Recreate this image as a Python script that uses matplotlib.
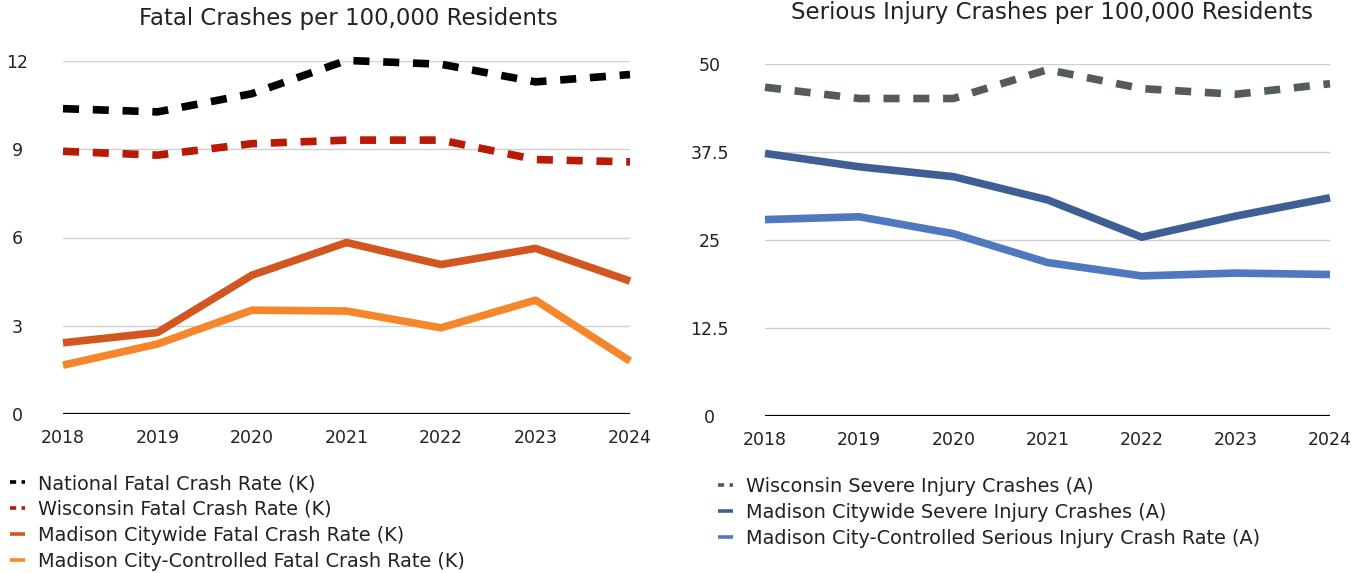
import matplotlib
matplotlib.use("Agg")
import matplotlib.pyplot as plt
from matplotlib.lines import Line2D

plt.rcParams['font.family'] = ['DejaVu Sans']

years = [2018, 2019, 2020, 2021, 2022, 2023, 2024]

# Fatal crashes per 100,000 residents
national_fatal = [10.38, 10.27, 10.89, 12.02, 11.89, 11.29, 11.54]
wisconsin_fatal = [8.93, 8.80, 9.19, 9.31, 9.31, 8.65, 8.57]
madison_citywide_fatal = [2.42, 2.77, 4.72, 5.83, 5.08, 5.63, 4.52]
madison_city_controlled_fatal = [1.66, 2.38, 3.53, 3.50, 2.93, 3.87, 1.80]

# Serious injury crashes per 100,000 residents
wisconsin_serious = [46.7, 45.1, 45.1, 49.2, 46.5, 45.7, 47.2]
madison_citywide_serious = [37.3, 35.4, 34.0, 30.7, 25.4, 28.4, 31.0]
madison_city_controlled_serious = [27.9, 28.3, 25.9, 21.8, 19.9, 20.3, 20.1]

fatal_ticks = [0, 3, 6, 9, 12]
fatal_tick_labels = ["0", "3", "6", "9", "12"]
serious_ticks = [0, 12.5, 25, 37.5, 50]
serious_tick_labels = ["0", "12.5", "25", "37.5", "50"]

fatal_labels = [
    "National Fatal Crash Rate (K)",
    "Wisconsin Fatal Crash Rate (K)",
    "Madison Citywide Fatal Crash Rate (K)",
    "Madison City-Controlled Fatal Crash Rate (K)",
]
serious_labels = [
    "Wisconsin Severe Injury Crashes (A)",
    "Madison Citywide Severe Injury Crashes (A)",
    "Madison City-Controlled Serious Injury Crash Rate (A)",
]

fatal_colors = ["#000000", "#B81A05", "#D2561F", "#F5862B"]
serious_colors = ["#545B5E", "#3F5E95", "#5078BF"]

TEXT = "#222222"
LW = 5.5
DASH = (0, (2.1, 1.8))

W, H = 1365, 573
fig = plt.figure(figsize=(W / 100, H / 100), dpi=100)


def px_axes(x0, x1, ytop, ybot):
    return fig.add_axes([x0 / W, 1 - ybot / H, (x1 - x0) / W, (ybot - ytop) / H])


ax1 = px_axes(63, 630, 61, 414)
ax2 = px_axes(765, 1330, 64, 416)


def style_axis(ax, ticks, tick_labels, top, ypad):
    ax.set_xlim(years[0], years[-1])
    ax.set_ylim(0, top)
    ax.set_yticks(ticks)
    ax.set_yticklabels(tick_labels)
    ax.set_xticks(years)
    ax.set_xticklabels([str(y) for y in years])
    for s in ax.spines.values():
        s.set_visible(False)
    ax.tick_params(length=0, labelsize=12.5, colors=TEXT)
    ax.tick_params(axis='x', pad=11)
    ax.tick_params(axis='y', pad=ypad)
    for lbl in ax.get_yticklabels():
        lbl.set_horizontalalignment('center')
    ax.grid(axis='y', color='#D0D0D0', linewidth=1.0)
    ax.set_axisbelow(True)
    ax.axhline(0, color='#000000', linewidth=1.6, zorder=1.5)


style_axis(ax1, fatal_ticks, fatal_tick_labels, 12, 33)
style_axis(ax2, serious_ticks, serious_tick_labels, 50, 40)

fatal_series = [national_fatal, wisconsin_fatal, madison_citywide_fatal,
                madison_city_controlled_fatal]
fatal_styles = [DASH, DASH, '-', '-']
for vals, col, ls in zip(fatal_series, fatal_colors, fatal_styles):
    ax1.plot(years, vals, color=col, linewidth=LW, linestyle=ls,
             solid_capstyle='butt', dash_capstyle='butt', clip_on=False, zorder=3)

serious_series = [wisconsin_serious, madison_citywide_serious,
                  madison_city_controlled_serious]
serious_styles = [DASH, '-', '-']
for vals, col, ls in zip(serious_series, serious_colors, serious_styles):
    ax2.plot(years, vals, color=col, linewidth=LW, linestyle=ls,
             solid_capstyle='butt', dash_capstyle='butt', clip_on=False, zorder=3)

fig.text(348 / W, 1 - 19 / H, "Fatal Crashes per 100,000 Residents",
         fontsize=16.5, color=TEXT, ha='center', va='center')
fig.text(1052 / W, 1 - 12 / H, "Serious Injury Crashes per 100,000 Residents",
         fontsize=16.5, color=TEXT, ha='center', va='center')


def legend_handles(colors, styles):
    hs = []
    for c, s in zip(colors, styles):
        if s == '-':
            hs.append(Line2D([], [], color=c, linewidth=2.6, solid_capstyle='butt'))
        else:
            hs.append(Line2D([], [], color=c, linewidth=2.6, linestyle=(0, (1.7, 1.5)),
                             dash_capstyle='butt'))
    return hs


leg1 = fig.legend(legend_handles(fatal_colors, fatal_styles), fatal_labels,
                  loc='upper left', bbox_to_anchor=(10 / W, 1 - 474 / H), frameon=False,
                  fontsize=13.9, handlelength=0.8, handletextpad=0.65,
                  labelspacing=0.36, borderpad=0, borderaxespad=0)
for t in leg1.get_texts():
    t.set_color(TEXT)

leg2 = fig.legend(legend_handles(serious_colors, serious_styles), serious_labels,
                  loc='upper left', bbox_to_anchor=(718 / W, 1 - 477 / H), frameon=False,
                  fontsize=13.9, handlelength=0.8, handletextpad=0.65,
                  labelspacing=0.36, borderpad=0, borderaxespad=0)
for t in leg2.get_texts():
    t.set_color(TEXT)

fig.savefig("out.png", dpi=100)
